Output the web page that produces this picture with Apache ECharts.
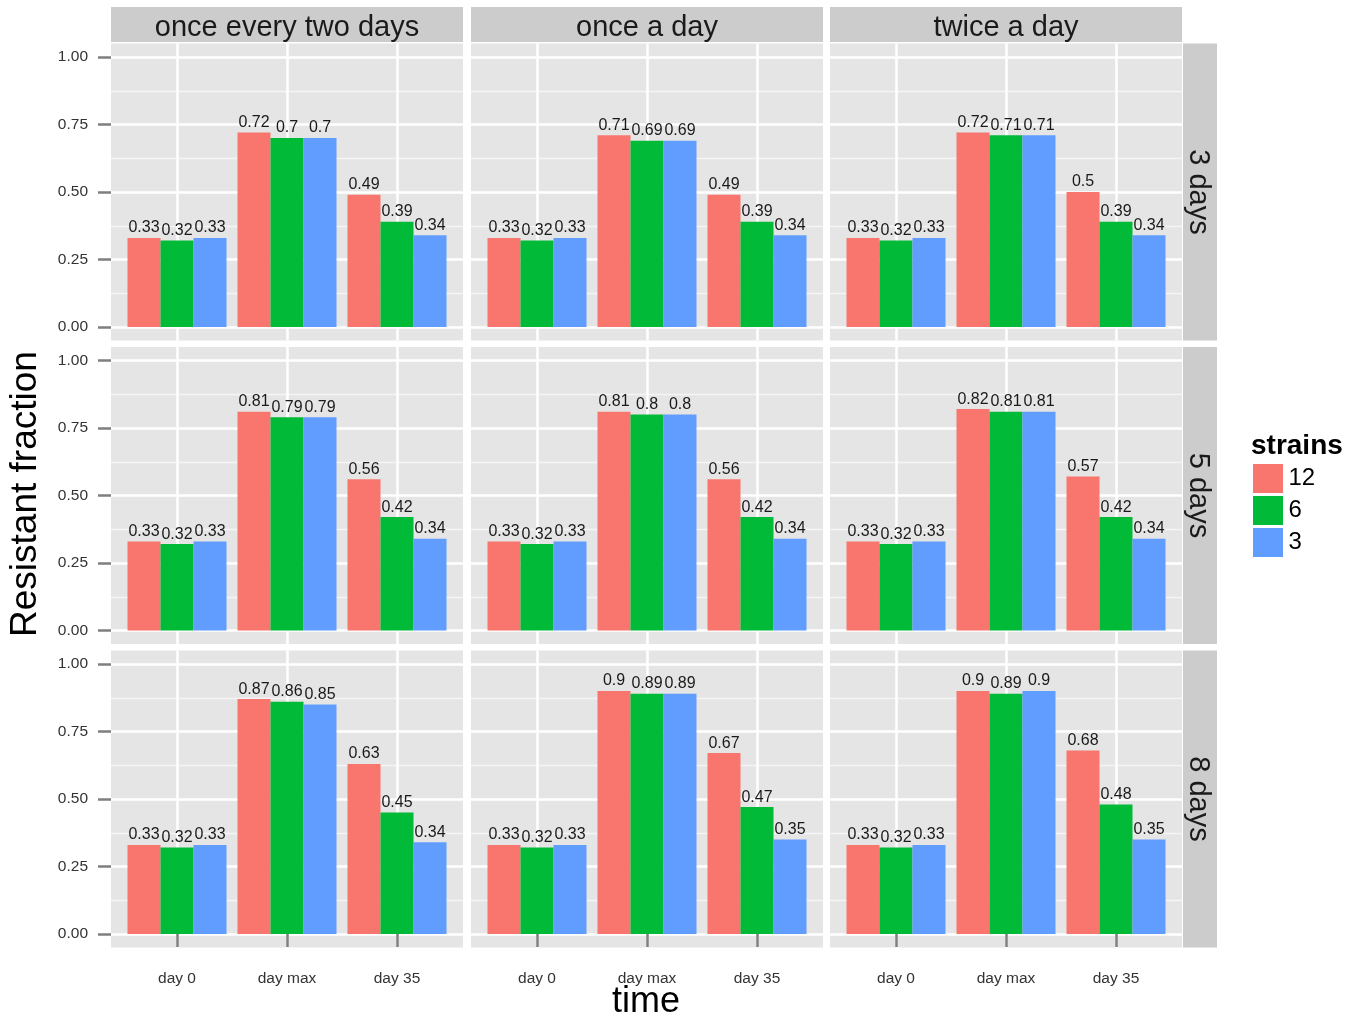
<!DOCTYPE html>
<html>
<head>
<meta charset="utf-8">
<script src="https://cdn.jsdelivr.net/npm/echarts@6/dist/echarts.min.js"></script>
<style>
html,body{margin:0;padding:0;background:#fff;}
#chart{width:1362px;height:1021px;}
</style>
</head>
<body>
<div id="chart"></div>
<script>
// ---- data ----
const frequencies = ['once every two days', 'once a day', 'twice a day'];
const durations = ['3 days', '5 days', '8 days'];
const timePoints = ['day 0', 'day max', 'day 35'];
const strains = ['12', '6', '3'];
const yTicks = [0, 0.25, 0.5, 0.75, 1];
const yMinorTicks = [0.125, 0.375, 0.625, 0.875];

// values per frequency (rows of arrays), each array = [day 0, day max, day 35]
const strain12_3days = [[0.33, 0.72, 0.49], [0.33, 0.71, 0.49], [0.33, 0.72, 0.5]];
const strain6_3days  = [[0.32, 0.7, 0.39],  [0.32, 0.69, 0.39], [0.32, 0.71, 0.39]];
const strain3_3days  = [[0.33, 0.7, 0.34],  [0.33, 0.69, 0.34], [0.33, 0.71, 0.34]];

const strain12_5days = [[0.33, 0.81, 0.56], [0.33, 0.81, 0.56], [0.33, 0.82, 0.57]];
const strain6_5days  = [[0.32, 0.79, 0.42], [0.32, 0.8, 0.42],  [0.32, 0.81, 0.42]];
const strain3_5days  = [[0.33, 0.79, 0.34], [0.33, 0.8, 0.34],  [0.33, 0.81, 0.34]];

const strain12_8days = [[0.33, 0.87, 0.63], [0.33, 0.9, 0.67],  [0.33, 0.9, 0.68]];
const strain6_8days  = [[0.32, 0.86, 0.45], [0.32, 0.89, 0.47], [0.32, 0.89, 0.48]];
const strain3_8days  = [[0.33, 0.85, 0.34], [0.33, 0.89, 0.35], [0.33, 0.9, 0.35]];

const valuesByDuration = [
  [strain12_3days, strain6_3days, strain3_3days],
  [strain12_5days, strain6_5days, strain3_5days],
  [strain12_8days, strain6_8days, strain3_8days]
];

// ---- styling / layout ----
const colors = ['#F8766D', '#00BA38', '#619CFF'];
const FONT = '"Liberation Sans", Arial, Helvetica, sans-serif';
const colLeft = [111, 471, 830];
const panelW = 352;
const rowTop = [43.5, 347, 650.5];
const panelH = 297;
const stripH = 35;
const stripW = 34;

const grids = [], xAxes = [], yAxes = [], series = [], graphics = [];

for (let r = 0; r < 3; r++) {
  for (let c = 0; c < 3; c++) {
    const g = r * 3 + c;
    grids.push({
      left: colLeft[c], top: rowTop[r], width: panelW, height: panelH,
      show: true, backgroundColor: '#E5E5E5', borderWidth: 0,
      outerBoundsMode: 'none', containLabel: false
    });
    xAxes.push({
      type: 'value', gridIndex: g, min: 0.4, max: 3.6,
      axisLine: { show: false },
      axisTick: { show: r === 2, customValues: [1, 2, 3], length: 13, lineStyle: { color: '#7F7F7F', width: 2.5 } },
      axisLabel: { show: r === 2, customValues: [1, 2, 3], margin: 23, fontSize: 15.5, color: '#333', fontFamily: FONT,
        formatter: v => timePoints[Math.round(v) - 1] },
      splitLine: { show: true, lineStyle: { color: '#FFFFFF', width: 2.5 } }
    });
    yAxes.push({
      type: 'value', gridIndex: g, min: -0.05, max: 1.05, position: 'left',
      axisLine: { show: false },
      axisTick: { show: c === 0, customValues: yTicks, length: 13, lineStyle: { color: '#7F7F7F', width: 2.5 } },
      axisLabel: { show: c === 0, customValues: yTicks, margin: 23, fontSize: 15.5, color: '#333', fontFamily: FONT,
        formatter: v => v.toFixed(2) },
      splitLine: { show: true, lineStyle: { color: '#FFFFFF', width: 2.5 } }
    });
    yAxes.push({
      type: 'value', gridIndex: g, min: -0.05, max: 1.05, position: 'right',
      axisLine: { show: false },
      axisTick: { show: false, customValues: yMinorTicks },
      axisLabel: { show: false, customValues: yMinorTicks },
      splitLine: { show: true, lineStyle: { color: '#F5F5F5', width: 1.3 } }
    });
    for (let s = 0; s < 3; s++) {
      const vals = valuesByDuration[r][s][c];
      series.push({
        type: 'bar', name: strains[s], xAxisIndex: g, yAxisIndex: 2 * g,
        data: timePoints.map((t, i) => [i + 1, vals[i]]),
        barWidth: '30%', barGap: '0%',
        itemStyle: { color: colors[s] },
        label: { show: true, position: 'top', distance: 2, fontSize: 16, color: '#1a1a1a', fontFamily: FONT,
          formatter: p => String(p.value[1]) },
        emphasis: { disabled: true }
      });
    }
  }
}

// strips
for (let c = 0; c < 3; c++) {
  graphics.push({ type: 'rect', shape: { x: colLeft[c], y: 7, width: panelW, height: stripH }, style: { fill: '#CCCCCC' }, z: 10 });
  graphics.push({ type: 'text', x: colLeft[c] + panelW / 2, y: 7 + stripH / 2 + 3, z: 11,
    style: { text: frequencies[c], font: '29px ' + FONT, fill: '#1a1a1a', align: 'center', verticalAlign: 'middle', textAlign: 'center', textVerticalAlign: 'middle' } });
}
const stripX = colLeft[2] + panelW + 1;
for (let r = 0; r < 3; r++) {
  graphics.push({ type: 'rect', shape: { x: stripX, y: rowTop[r], width: stripW, height: panelH }, style: { fill: '#CCCCCC' }, z: 10 });
  graphics.push({ type: 'text', x: stripX + stripW / 2 - 2, y: rowTop[r] + panelH / 2, rotation: -Math.PI / 2, z: 11,
    style: { text: durations[r], font: '29px ' + FONT, fill: '#1a1a1a', align: 'center', verticalAlign: 'middle', textAlign: 'center', textVerticalAlign: 'middle' } });
}
// axis titles
graphics.push({ type: 'text', x: 26, y: 494, rotation: Math.PI / 2, z: 11,
  style: { text: 'Resistant fraction', font: '37px ' + FONT, fill: '#000', align: 'center', verticalAlign: 'middle', textAlign: 'center', textVerticalAlign: 'middle' } });
graphics.push({ type: 'text', x: 646, y: 1002, z: 11,
  style: { text: 'time', font: '36px ' + FONT, fill: '#000', align: 'center', verticalAlign: 'middle', textAlign: 'center', textVerticalAlign: 'middle' } });
// legend title
graphics.push({ type: 'text', x: 1251, y: 446, z: 11,
  style: { text: 'strains', font: 'bold 28px ' + FONT, fill: '#000', align: 'left', verticalAlign: 'middle', textAlign: 'left', textVerticalAlign: 'middle' } });

const chart = echarts.init(document.getElementById('chart'), null, { renderer: 'canvas' });
chart.setOption({
  animation: false,
  backgroundColor: '#FFFFFF',
  grid: grids,
  xAxis: xAxes,
  yAxis: yAxes,
  series: series,
  legend: {
    data: strains, orient: 'vertical', left: 1252, top: 463, padding: 0,
    itemWidth: 31, itemHeight: 30, itemGap: 1, icon: 'rect',
    selectedMode: false,
    textStyle: { fontSize: 24, color: '#000', fontFamily: FONT },
    itemStyle: { borderColor: '#FFFFFF', borderWidth: 1 }
  },
  graphic: graphics
});
</script>
</body>
</html>
